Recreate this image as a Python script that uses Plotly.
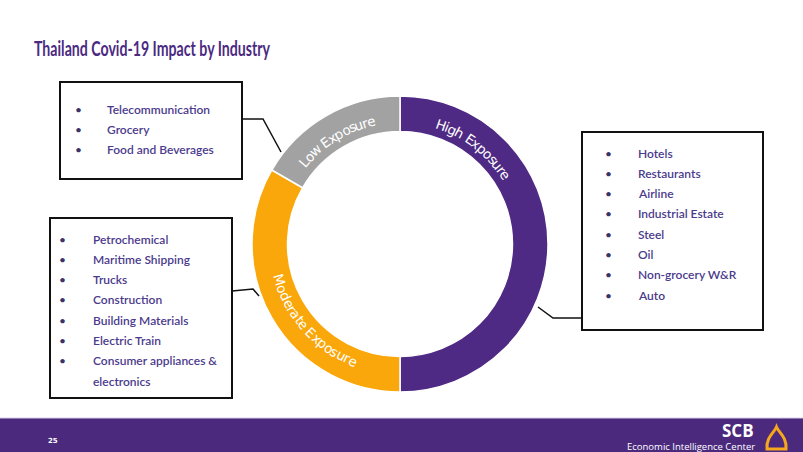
import math
import plotly.graph_objects as go

W, H = 803, 452

# ---------------- data ----------------
segments = ["High Exposure", "Moderate Exposure", "Low Exposure"]
weights = [3, 2, 1]
seg_colors = ["#4f2a84", "#f9a70a", "#a2a2a2"]

high_items = ["Hotels", "Restaurants", "Airline", "Industrial Estate", "Steel",
              "Oil", "Non-grocery W&R", "Auto"]
moderate_items = ["Petrochemical", "Maritime Shipping", "Trucks", "Construction",
                  "Building Materials", "Electric Train",
                  "Consumer appliances &\nelectronics"]
low_items = ["Telecommunication", "Grocery", "Food and Beverages"]

title = "Thailand Covid-19 Impact by Industry"
page_no = "25"

# ---------------- helpers ----------------
def X(px):
    return px / W

def Y(py):
    return 1 - py / H

# donut geometry (pixels)
cx, cy, R_out = 400, 244, 148
hole = 0.76

fig = go.Figure()
fig.add_trace(go.Pie(
    labels=segments, values=weights, sort=False, direction="clockwise",
    rotation=0, hole=hole, textinfo="none", hoverinfo="label+percent",
    marker=dict(colors=seg_colors, line=dict(color="white", width=1.5)),
    domain=dict(x=[X(cx - R_out), X(cx + R_out)], y=[Y(cy + R_out), Y(cy - R_out)]),
    showlegend=False,
))

annotations = []
shapes = []

# ---------------- curved segment labels ----------------
CW = {'H': .752, 'i': .278, 'g': .635, 'h': .634, ' ': .318, 'E': .632, 'x': .592,
      'p': .635, 'o': .612, 's': .521, 'u': .634, 'r': .411, 'e': .615, 'L': .557,
      'w': .818, 'M': .863, 'd': .635, 'a': .613, 't': .392}
label_frac = [0.21, 0.40, 0.48]
label_bottom = [False, True, False]
fsize = 13.5
tight = 0.93
r_txt = 126
total = sum(weights)
cum = 0
for name, v, frac, bottom in zip(segments, weights, label_frac, label_bottom):
    b0 = cum / total * 360
    b1 = (cum + v) / total * 360
    cum += v
    centre = math.radians(b0 + (b1 - b0) * frac)
    widths = [CW.get(c, 0.6) * fsize * tight for c in name]
    span = sum(widths) / r_txt
    acc = 0
    for ch, w in zip(name, widths):
        off = (acc + w / 2) / r_txt
        acc += w
        if bottom:
            b = centre + span / 2 - off
            rot = math.degrees(b) - 180
        else:
            b = centre - span / 2 + off
            rot = math.degrees(b)
        if ch == " ":
            continue
        px = cx + r_txt * math.sin(b)
        py = cy - r_txt * math.cos(b)
        annotations.append(dict(
            x=X(px), y=Y(py), xref="paper", yref="paper", text=ch, showarrow=False,
            textangle=rot, xanchor="center", yanchor="middle",
            font=dict(family="DejaVu Sans", size=fsize, color="white")))

# ---------------- boxes, bullet lists, connectors ----------------
item_font = dict(family="Lato", size=12, color="#4b3b8c", weight=600)
boxes = [
    (low_items, (60, 82, 242, 179), 78, 105, 109, 20.5,
     [(242, 119), (263, 119), (281, 152)]),
    (moderate_items, (50, 218, 232, 398), 63, 91, 239, 20.3,
     [(232, 291), (253, 289), (259, 296)]),
    (high_items, (582, 132, 763, 330), 608, 636, 153, 20.3,
     [(538, 307), (553, 318), (582, 318)]),
]
for items, (x0, y0, x1, y1), bx, tx, ry, step, conn in boxes:
    shapes.append(dict(type="rect", xref="paper", yref="paper",
                       x0=X(x0), x1=X(x1), y0=Y(y1), y1=Y(y0),
                       line=dict(color="#111111", width=2), fillcolor="rgba(0,0,0,0)"))
    path = "M " + " L ".join(f"{X(a):.5f},{Y(b):.5f}" for a, b in conn)
    shapes.append(dict(type="path", xref="paper", yref="paper", path=path,
                       line=dict(color="#111111", width=1.5)))
    row = 0
    for it in items:
        lines = it.split("\n")
        for k, ln in enumerate(lines):
            yy = ry + step * row
            if k == 0:
                annotations.append(dict(x=X(bx), y=Y(yy), xref="paper", yref="paper",
                                        text="•", showarrow=False, xanchor="center",
                                        yanchor="middle",
                                        font=dict(family="Lato", size=12, color="#3a3366")))
            annotations.append(dict(x=X(tx), y=Y(yy), xref="paper", yref="paper",
                                    text=ln, showarrow=False, xanchor="left",
                                    yanchor="middle", font=item_font))
            row += 1

# ---------------- title ----------------
annotations.append(dict(x=X(32), y=Y(48), xref="paper", yref="paper", text=title,
                        showarrow=False, xanchor="left", yanchor="middle",
                        font=dict(family="Lato", size=21, color="#4b2a82", weight="bold")))

# ---------------- footer ----------------
shapes.append(dict(type="rect", xref="paper", yref="paper", x0=0, x1=1,
                   y0=0, y1=Y(418), fillcolor="#4b2a7e", line=dict(width=0), layer="below"))
shapes.append(dict(type="line", xref="paper", yref="paper", x0=0, x1=1,
                   y0=Y(418), y1=Y(418), line=dict(color="#d9cdea", width=1)))
annotations.append(dict(x=X(53), y=Y(441), xref="paper", yref="paper", text="<b>" + page_no + "</b>",
                        showarrow=False, xanchor="center", yanchor="middle",
                        font=dict(family="DejaVu Sans", size=7, color="white")))
annotations.append(dict(x=X(756), y=Y(430), xref="paper", yref="paper", text="<b>SCB</b>",
                        showarrow=False, xanchor="right", yanchor="middle",
                        font=dict(family="Open Sans", size=17, color="white")))
annotations.append(dict(x=X(757), y=Y(446), xref="paper", yref="paper",
                        text="Economic Intelligence Center", showarrow=False,
                        xanchor="right", yanchor="middle",
                        font=dict(family="Open Sans", size=9.5, color="white")))
logo = [(776.5, 427), (779, 433), (787, 437), (786, 449), (767, 449),
        (766, 437), (774, 433), (776.5, 427)]
lp = (f"M {X(logo[0][0]):.5f},{Y(logo[0][1]):.5f} "
      f"C {X(logo[1][0]):.5f},{Y(logo[1][1]):.5f} {X(logo[2][0]):.5f},{Y(logo[2][1]):.5f} {X(logo[3][0]):.5f},{Y(logo[3][1]):.5f} "
      f"L {X(logo[4][0]):.5f},{Y(logo[4][1]):.5f} "
      f"C {X(logo[5][0]):.5f},{Y(logo[5][1]):.5f} {X(logo[6][0]):.5f},{Y(logo[6][1]):.5f} {X(logo[7][0]):.5f},{Y(logo[7][1]):.5f} Z")
shapes.append(dict(type="path", xref="paper", yref="paper", path=lp,
                   line=dict(color="#f6a81c", width=3)))

fig.update_layout(
    width=W, height=H, margin=dict(l=0, r=0, t=0, b=0),
    paper_bgcolor="white", plot_bgcolor="white",
    annotations=annotations, shapes=shapes,
)

# page: no body margin; condense the title to the reference's narrow width
post = """
document.body.style.margin='0';document.body.style.overflow='hidden';
document.querySelectorAll('text.annotation-text').forEach(function(e){
  if(e.textContent.indexOf('Thailand')===0){
    var b1=e.getBBox();
    e.setAttribute('textLength','236');
    e.setAttribute('lengthAdjust','spacingAndGlyphs');
    var b2=e.getBBox();
    e.setAttribute('x', parseFloat(e.getAttribute('x')||0) + (b1.x-b2.x));
  }
});
"""
fig.write_html("out.html", config={"displayModeBar": False}, post_script=post)
